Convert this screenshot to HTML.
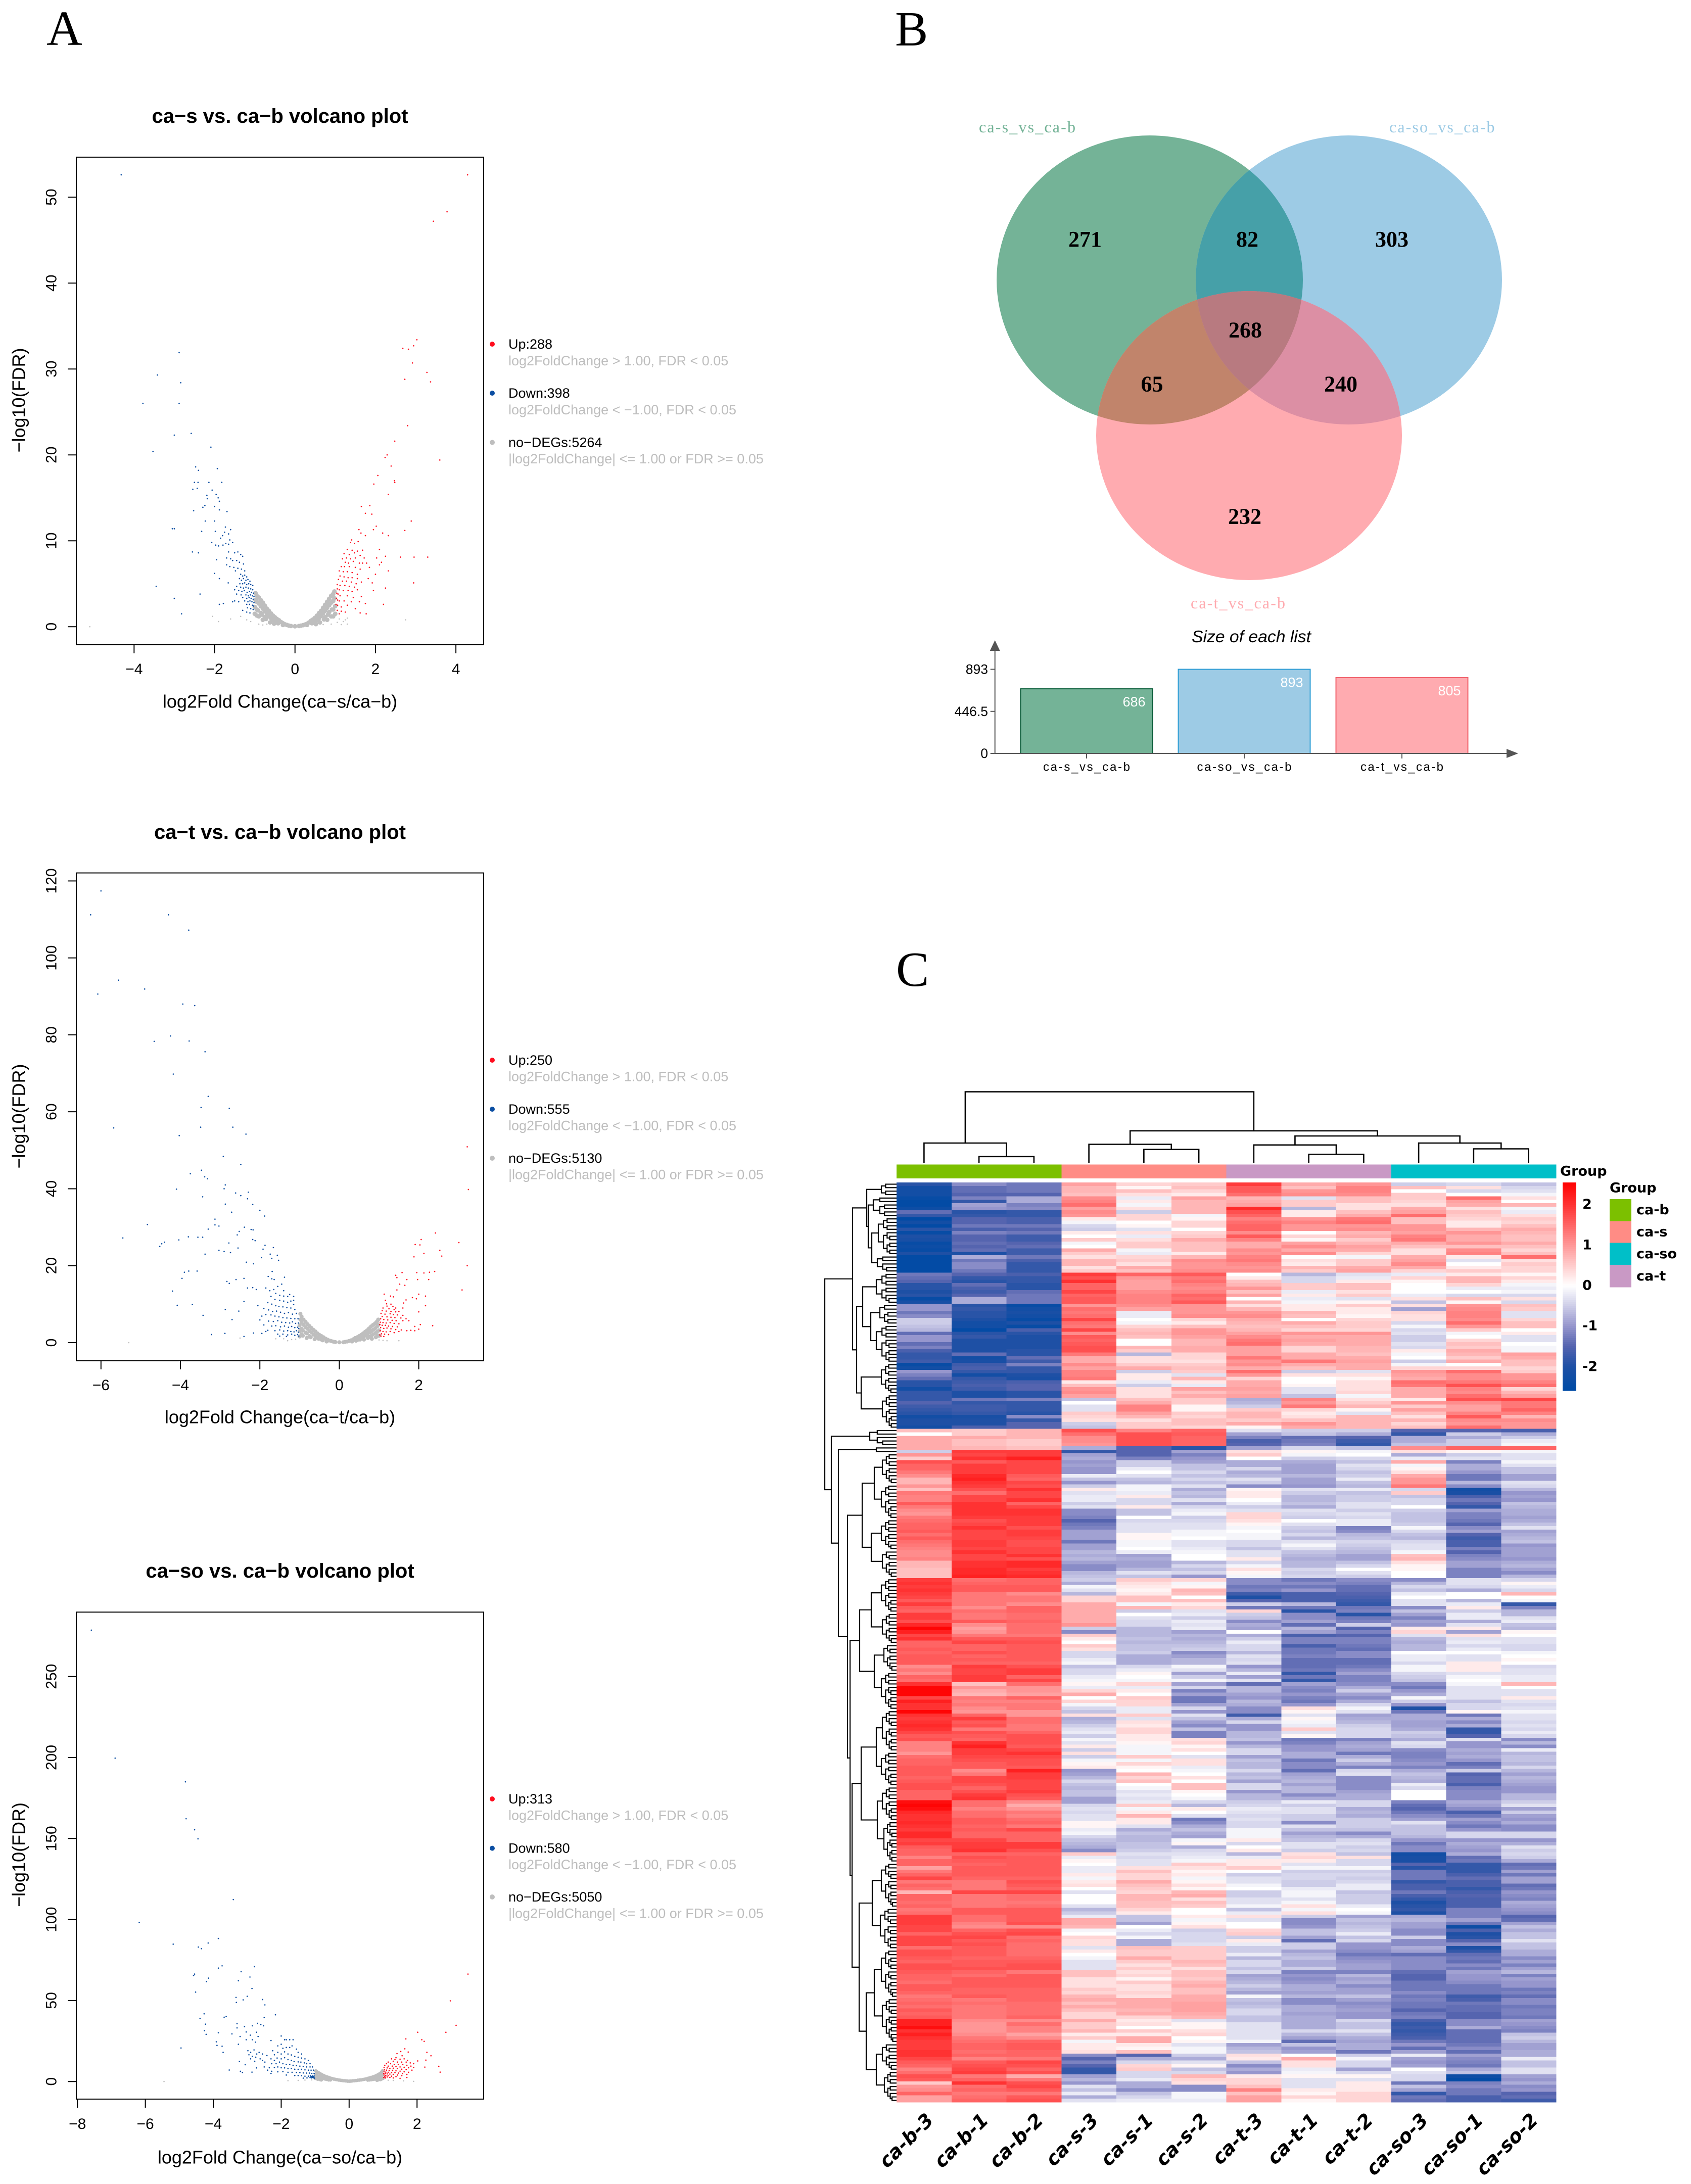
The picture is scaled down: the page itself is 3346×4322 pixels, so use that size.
<!DOCTYPE html>
<html lang="en">
<head>
<meta charset="utf-8">
<title>Volcano plots, Venn diagram and heatmap</title>
<style>
html,body{margin:0;padding:0;background:#fff}
svg{display:block}
text{fill:#000}
.sans{font-family:"Liberation Sans",sans-serif}
.serif{font-family:"Liberation Serif",serif}
.dejavu{font-family:"DejaVu Sans",sans-serif;font-weight:bold}
.vt{font-family:"Liberation Sans",sans-serif;font-weight:bold;font-size:40px;text-anchor:middle;dominant-baseline:central}
.vx{font-family:"Liberation Sans",sans-serif;font-size:36px;text-anchor:middle;dominant-baseline:central}
.lg{font-family:"Liberation Sans",sans-serif;font-size:27px;dominant-baseline:central}
.lgs{font-family:"Liberation Sans",sans-serif;font-size:27px;dominant-baseline:central;fill:#bebebe}
.vn{font-family:"Liberation Serif",serif;font-weight:bold;font-size:44px;text-anchor:middle;dominant-baseline:central}
.letter{font-family:"Liberation Serif",serif;font-size:98px}
</style>
</head>
<body>
<svg id="fig" xmlns="http://www.w3.org/2000/svg" width="3346" height="4322" viewBox="0 0 3346 4322">
<rect width="3346" height="4322" fill="#fff"/>
<text class="letter" x="92" y="89">A</text>
<text class="letter" x="1771" y="90">B</text>
<text class="letter" x="1773" y="1951">C</text>

<g id="v1">
<text class="vt" x="554" y="230">ca−s vs. ca−b volcano plot</text>
<text class="vx" x="554" y="1388">log2Fold Change(ca−s/ca−b)</text>
<text class="vx" transform="translate(37,792) rotate(-90)">−log10(FDR)</text>
<circle cx="974" cy="681" r="5" fill="#ff0d1e"/>
<text class="lg" x="1006" y="681">Up:288</text>
<text class="lgs" x="1006" y="714">log2FoldChange &gt; 1.00, FDR &lt; 0.05</text>
<circle cx="974" cy="778" r="5" fill="#0b4ea2"/>
<text class="lg" x="1006" y="778">Down:398</text>
<text class="lgs" x="1006" y="811">log2FoldChange &lt; −1.00, FDR &lt; 0.05</text>
<circle cx="974" cy="875.5" r="5" fill="#bebebe"/>
<text class="lg" x="1006" y="875.5">no−DEGs:5264</text>
<text class="lgs" x="1006" y="908">|log2FoldChange| &lt;= 1.00 or FDR &gt;= 0.05</text>
</g>

<g id="v2">
<text class="vt" x="554" y="1647">ca−t vs. ca−b volcano plot</text>
<text class="vx" x="554" y="2804">log2Fold Change(ca−t/ca−b)</text>
<text class="vx" transform="translate(37,2209) rotate(-90)">−log10(FDR)</text>
<circle cx="974" cy="2098" r="5" fill="#ff0d1e"/>
<text class="lg" x="1006" y="2098">Up:250</text>
<text class="lgs" x="1006" y="2130.5">log2FoldChange &gt; 1.00, FDR &lt; 0.05</text>
<circle cx="974" cy="2195" r="5" fill="#0b4ea2"/>
<text class="lg" x="1006" y="2195">Down:555</text>
<text class="lgs" x="1006" y="2227.5">log2FoldChange &lt; −1.00, FDR &lt; 0.05</text>
<circle cx="974" cy="2292" r="5" fill="#bebebe"/>
<text class="lg" x="1006" y="2292">no−DEGs:5130</text>
<text class="lgs" x="1006" y="2324.5">|log2FoldChange| &lt;= 1.00 or FDR &gt;= 0.05</text>
</g>

<g id="v3">
<text class="vt" x="554" y="3109">ca−so vs. ca−b volcano plot</text>
<text class="vx" x="554" y="4269">log2Fold Change(ca−so/ca−b)</text>
<text class="vx" transform="translate(37,3670.5) rotate(-90)">−log10(FDR)</text>
<circle cx="974" cy="3560" r="5" fill="#ff0d1e"/>
<text class="lg" x="1006" y="3560">Up:313</text>
<text class="lgs" x="1006" y="3592.7">log2FoldChange &gt; 1.00, FDR &lt; 0.05</text>
<circle cx="974" cy="3657.6" r="5" fill="#0b4ea2"/>
<text class="lg" x="1006" y="3657.6">Down:580</text>
<text class="lgs" x="1006" y="3690">log2FoldChange &lt; −1.00, FDR &lt; 0.05</text>
<circle cx="974" cy="3754" r="5" fill="#bebebe"/>
<text class="lg" x="1006" y="3754">no−DEGs:5050</text>
<text class="lgs" x="1006" y="3786.6">|log2FoldChange| &lt;= 1.00 or FDR &gt;= 0.05</text>
</g>

<g id="venn">
<defs>
<clipPath id="clipGreen"><ellipse cx="2275" cy="554" rx="303" ry="286"/></clipPath>
<clipPath id="clipBlue"><ellipse cx="2669" cy="554" rx="303" ry="286"/></clipPath>
</defs>
<ellipse cx="2275" cy="554" rx="303" ry="286" fill="#74b397"/>
<ellipse cx="2669" cy="554" rx="303" ry="286" fill="#9dcbe5"/>
<ellipse cx="2471.5" cy="862" rx="302.5" ry="286" fill="#ffabb0"/>
<ellipse cx="2669" cy="554" rx="303" ry="286" fill="#46a0a8" clip-path="url(#clipGreen)"/>
<ellipse cx="2471.5" cy="862" rx="302.5" ry="286" fill="#c1846b" clip-path="url(#clipGreen)"/>
<ellipse cx="2471.5" cy="862" rx="302.5" ry="286" fill="#dc8fa4" clip-path="url(#clipBlue)"/>
<g clip-path="url(#clipGreen)"><ellipse cx="2471.5" cy="862" rx="302.5" ry="286" fill="#b87a80" clip-path="url(#clipBlue)"/></g>
<text class="vn" x="2147" y="473.5">271</text>
<text class="vn" x="2468" y="473.5">82</text>
<text class="vn" x="2754" y="473.5">303</text>
<text class="vn" x="2464" y="653">268</text>
<text class="vn" x="2279.5" y="760">65</text>
<text class="vn" x="2653" y="760">240</text>
<text class="vn" x="2463" y="1022">232</text>
<text class="serif" x="1937" y="251" font-size="32" textLength="191" style="fill:#74b397;dominant-baseline:central">ca-s_vs_ca-b</text>
<text class="serif" x="2749" y="251" font-size="32" textLength="208.5" style="fill:#9dcbe5;dominant-baseline:central">ca-so_vs_ca-b</text>
<text class="serif" x="2356" y="1193" font-size="32" textLength="187" style="fill:#ffabb0;dominant-baseline:central">ca-t_vs_ca-b</text>
</g>

<g id="bars">
<text class="sans" x="2476" y="1260" font-size="33.7" font-style="italic" text-anchor="middle" style="dominant-baseline:central">Size of each list</text>
</g>

<g id="heat">
<text class="dejavu" x="3087" y="2318" font-size="27" style="dominant-baseline:central">Group</text>
<text class="dejavu" x="3185" y="2351" font-size="27" style="dominant-baseline:central">Group</text>
</g>
</svg>

<script>
/* ---------- volcano data: [log2 fold change, -log10 FDR] ---------- */
const v1XTicks=[-4,-2,0,2,4];
const v1YTicks=[0,10,20,30,40,50];
const v1Down=[[-4.32,52.6],[-2.88,31.9],[-3.42,29.3],[-2.84,28.4],[-3.78,26],[-2.88,26],[-3,22.3],[-2.58,22.5],[-3.53,20.4],[-2.09,20.9],[-2.47,18.6],[-2.4,18.2],[-1.93,18.4],[-2.5,16.8],[-2.41,16.8],[-2.14,16.8],[-1.82,16.8],[-2.54,16],[-2.43,16.1],[-2.06,15.9],[-2.19,15.3],[-2.18,14.9],[-1.96,15.4],[-1.91,15],[-1.88,14.6],[-2.24,14.1],[-2.29,13.9],[-2,14],[-2.52,13.5],[-1.88,13.6],[-1.69,13.4],[-2.23,12.3],[-2,12.3],[-3.05,11.4],[-3,11.4],[-2.32,11.1],[-1.98,11.1],[-1.73,11.6],[-1.6,11.3],[-1.75,11],[-1.65,10.8],[-1.8,10.6],[-1.85,10.3],[-1.62,10.1],[-1.55,9.8],[-1.72,9.7],[-2.07,9.8],[-1.97,9.5],[-1.9,9.4],[-1.79,9.5],[-1.65,9.6],[-2.55,8.7],[-2.4,8.6],[-1.65,8.7],[-1.5,8.6],[-1.42,8.7],[-1.35,8.4],[-1.3,8.2],[-1.7,8],[-1.6,7.9],[-1.55,7.7],[-1.45,7.7],[-1.38,7.5],[-1.28,7.3],[-1.7,7.2],[-1.62,7],[-1.52,6.9],[-1.42,6.8],[-1.33,6.7],[-1.25,6.5],[-1.48,6.5],[-1.95,7.8],[-2,6.2],[-1.88,5.6],[-1.66,5.1],[-1.35,6.1],[-1.3,5.9],[-1.25,6],[-1.2,5.8],[-1.38,5.6],[-1.33,5.4],[-1.28,5.6],[-1.22,5.4],[-1.17,5.5],[-1.12,5.3],[-1.37,5],[-1.3,5],[-1.25,5.1],[-1.2,4.9],[-1.15,5],[-1.1,4.9],[-1.05,4.8],[-1.45,4.7],[-1.35,4.6],[-1.28,4.5],[-1.22,4.6],[-1.16,4.5],[-1.1,4.4],[-1.05,4.3],[-1.5,4.3],[-1.4,4.2],[-1.32,4.1],[-1.26,4.2],[-1.19,4],[-1.13,4.1],[-1.08,4],[-1.03,3.9],[-1.45,3.8],[-1.34,3.7],[-1.22,3.7],[-1.16,3.6],[-1.11,3.7],[-1.06,3.6],[-1.02,3.5],[-1.3,3.4],[-1.2,3.3],[-1.14,3.4],[-1.09,3.3],[-1.04,3.2],[-1.25,3],[-1.17,2.9],[-1.12,3],[-1.07,2.9],[-1.02,2.8],[-1.4,2.9],[-1.5,3],[-1.55,2.9],[-1.2,2.6],[-1.13,2.6],[-1.06,2.5],[-1.03,2.4],[-1.18,2.2],[-1.1,2.1],[-1.04,2],[-1.3,1.9],[-1.2,1.7],[-1.12,1.6],[-3,3.3],[-3.45,4.7],[-2.36,3.8],[-1.88,2.6],[-1.78,2.7],[-2.82,1.5]];
const v1Up=[[4.29,52.6],[3.78,48.3],[3.44,47.2],[3.03,33.4],[2.95,32.7],[2.68,32.4],[2.82,32.3],[2.92,30.7],[3.28,29.6],[2.73,28.8],[3.37,28.5],[2.8,23.4],[2.48,21.6],[2.29,20],[2.24,19.7],[3.6,19.4],[2.39,18.7],[2.06,17.6],[2.47,17],[2.48,16.8],[1.96,16.6],[2.32,15.4],[1.65,14],[1.86,14.1],[1.75,13.2],[1.91,13.1],[2.89,12.3],[2.73,11.2],[2.02,11.7],[1.95,11.3],[1.59,11.3],[1.64,10.9],[1.75,10.6],[2.18,10.9],[1.41,10.1],[1.38,9.8],[1.57,9.9],[1.48,9.7],[2.32,10.6],[1.3,9],[1.42,8.9],[1.55,8.8],[1.68,8.9],[2.1,9],[1.22,8.5],[1.35,8.4],[1.48,8.6],[1.62,8.3],[1.28,8],[1.18,7.9],[1.38,7.9],[1.5,8],[1.72,8],[1.25,7.5],[1.33,7.4],[1.45,7.6],[1.6,7.4],[1.68,7.4],[1.78,7.4],[2.03,8],[2.15,7.5],[2.25,8.2],[2.62,8.1],[2.96,8.1],[3.3,8.1],[2.1,7.2],[1.15,7],[1.23,7],[1.35,7],[1.5,6.9],[1.62,6.7],[1.85,6.9],[2.32,6.5],[1.1,6.5],[1.2,6.4],[1.3,6.4],[1.42,6.3],[1.55,6.1],[2,6.1],[1.12,5.9],[1.22,5.8],[1.32,5.7],[1.42,5.7],[1.55,5.6],[1.82,5.6],[1.08,5.5],[1.18,5.3],[1.28,5.3],[1.4,5.2],[1.52,5],[1.65,5.2],[1.92,5.1],[2.95,5.1],[1.05,4.9],[1.12,4.8],[1.24,4.8],[1.35,4.7],[1.48,4.6],[2.25,4.5],[1.05,4.4],[1.1,4.3],[1.2,4.2],[1.32,4.2],[1.42,4.1],[1.55,4.3],[1.95,4.2],[1.04,3.9],[1.07,3.8],[1.12,3.6],[1.3,3.6],[1.45,3.4],[1.65,3.5],[1.03,3.3],[1.06,3.1],[1.1,3],[1.22,3],[1.4,2.9],[1.6,2.9],[1.02,2.6],[1.06,2.5],[1.15,2.3],[1.3,2.5],[1.5,2.1],[1.75,2.7],[2.2,2.6],[1.05,1.9],[1.15,1.8],[1.25,1.7],[1.62,1.6],[1.77,1.5],[1.1,1.5]];
const v1Gray=[[0,.05],[-.1,.08],[.1,.08],[-.2,.2],[.2,.18],[-.3,.4],[.3,.35],[-.3,.2],[.3,.2],[-.4,.75],[-.42,.4],[.4,.7],[.42,.4],[-.5,1.1],[-.5,.65],[-.52,.35],[.5,1.05],[.5,.6],[.52,.3],[-.6,1.55],[-.6,1],[-.62,.5],[.6,1.6],[.6,1],[.62,.5],[-.7,2.1],[-.7,1.5],[-.72,.9],[.7,2.2],[.7,1.55],[.72,.85],[-.8,2.8],[-.8,2.1],[-.82,1.4],[-.8,.8],[.8,2.9],[.8,2.2],[.82,1.4],[.8,.8],[-.9,3.4],[-.9,2.7],[-.92,1.9],[-.9,1.2],[.9,3.6],[.9,2.8],[.92,2],[.9,1.2],[-.98,3.9],[-.98,3.1],[-1,2.3],[-1,1.5],[.98,4.1],[.98,3.3],[1,2.4],[1,1.5],[-.15,.12],[.15,.12],[-.25,.28],[.25,.25],[-.35,.55],[.35,.5],[-.45,.9],[.45,.85],[-.45,.5],[.45,.45],[-.55,1.3],[.55,1.3],[-.55,.8],[.55,.75],[-.65,1.85],[.65,1.85],[-.65,1.2],[.65,1.25],[-.75,2.45],[.75,2.55],[-.75,1.8],[.75,1.85],[-.75,1.1],[.75,1.1],[-.85,3.1],[.85,3.25],[-.85,2.4],[.85,2.5],[-.85,1.6],[.85,1.7],[-.95,3.6],[.95,3.8],[-.95,2.9],[.95,3],[-.95,2],[.95,2],[-.95,1.3],[.95,1.2]];
const v1GraySparse=[[-5.1,0],[2.75,.8],[-2.05,1.2],[-1.9,.6],[-1.6,.9],[1.3,.3],[1.2,.6],[-.8,.2],[-.9,.3],[.9,.3],[1.05,.5],[1.15,.25],[1.25,.8],[-1.1,.6],[-1.2,.8],[-1.35,1.2],[1.3,1],[1.1,.9],[-.7,.3],[.7,.25]];

const v2XTicks=[-6,-4,-2,0,2];
const v2YTicks=[0,20,40,60,80,100,120];
const v2Down=[[-6,117.4],[-6.26,111.2],[-4.3,111.2],[-3.79,107.2],[-5.56,94.2],[-4.9,91.9],[-6.08,90.6],[-3.94,88],[-3.64,87.6],[-4.25,79.7],[-4.66,78.3],[-3.78,78.4],[-3.38,75.6],[-4.18,69.8],[-3.3,64],[-3.48,61.1],[-2.77,60.9],[-5.68,55.8],[-3.49,56],[-2.68,56],[-2.35,54.2],[-4.03,53.8],[-2.92,48.4],[-2.48,46.3],[-3.47,44.8],[-3.75,43.9],[-3.39,43.1],[-3.32,42.6],[-2.87,41],[-2.9,40],[-4.1,39.9],[-2.61,38.9],[-2.48,38.2],[-2.29,39.1],[-3.44,37.9],[-2.31,37.4],[-2.18,35.9],[-2.87,36],[-2,34.4],[-2.71,33.9],[-1.88,32.9],[-3.13,32.1],[-3.13,30.6],[-3.03,30.3],[-4.83,30.7],[-3.3,29.5],[-2.39,30],[-2.22,29.4],[-2.17,29.3],[-2.52,28.9],[-2.57,28],[-5.45,27.2],[-3.44,27.4],[-3.8,27.5],[-3.56,27.4],[-4.04,26.7],[-2.18,26.8],[-2.12,26.5],[-2.78,25.9],[-4.4,26.1],[-4.47,25.7],[-4.52,25],[-1.87,25.3],[-1.92,24.3],[-1.66,24.7],[-3.03,24],[-2.9,23.7],[-2.55,24.6],[-2.74,23.4],[-3.38,23],[-1.74,23],[-1.56,22.7],[-1.96,22.1],[-1.7,21.9],[-1.53,21.4],[-2.34,20.9],[-2.16,20.5],[-3.9,18.3],[-3.96,16.7],[-3.79,18.6],[-3.58,18.6],[-1.69,18.5],[-1.79,17.2],[-1.7,16.6],[-1.64,16.4],[-1.38,17],[-2.6,16.4],[-2.4,16.7],[-2.83,15.9],[-2.77,15.4],[-4.2,13.4],[-4.08,9.7],[-3.7,9.9],[-3.43,7.1],[-3.22,2.1],[-2.88,2.4],[-2.31,14.2],[-2.18,14.3],[-2.09,13.8],[-2.4,10.7],[-2.05,9.6],[-2.53,8.2],[-2.87,8.6],[-2.7,6],[-2.4,1.6],[-2.16,2.5],[-1.85,14.2],[-1.75,13.5],[-1.65,13.8],[-1.55,14.6],[-1.45,15.2],[-1.4,13.5],[-1.6,12.8],[-1.5,12.3],[-1.4,12.1],[-1.3,12],[-1.72,12],[-1.62,11.2],[-1.5,11],[-1.4,10.8],[-1.3,10.5],[-1.22,10.8],[-1.15,9.9],[-1.8,10.4],[-1.7,10],[-1.6,9.6],[-1.52,9.4],[-1.42,9.3],[-1.32,9.1],[-1.22,9],[-1.12,8.6],[-1.9,8.9],[-1.78,8.5],[-1.68,8.1],[-1.58,8.2],[-1.48,7.9],[-1.38,7.6],[-1.28,7.8],[-1.18,7.4],[-1.08,7.6],[-1.95,6.9],[-1.85,7.3],[-1.72,7.2],[-1.62,6.9],[-1.52,6.7],[-1.42,6.5],[-1.32,6.4],[-1.22,6.3],[-1.12,6.2],[-1.04,6.2],[-2,5.9],[-1.78,5.6],[-1.66,5.5],[-1.55,5.7],[-1.45,5.3],[-1.35,5.2],[-1.25,5.1],[-1.18,5.4],[-1.1,5],[-1.03,5.1],[-1.9,4.6],[-1.7,4.3],[-1.6,4.4],[-1.48,4.1],[-1.38,4.3],[-1.28,4],[-1.2,4.2],[-1.12,3.9],[-1.05,4],[-1.02,3.7],[-1.8,3.2],[-1.62,3.1],[-1.5,3.3],[-1.4,3],[-1.3,3.1],[-1.22,2.9],[-1.14,2.8],[-1.08,3.1],[-1.03,2.7],[-1.55,2.2],[-1.42,2.2],[-1.3,2],[-1.2,2.2],[-1.12,1.9],[-1.05,2.1],[-1.02,1.7],[-1.33,1.6],[-1.5,1.7],[-1.95,2.4],[-1.85,2.9],[-1.15,12],[-1.25,12.5],[-1.15,11]];
const v2Up=[[3.22,50.9],[3.25,39.8],[2.42,28.5],[3.01,26],[2.06,26.8],[1.91,25.5],[2.03,25.4],[2.53,24],[2.13,23.2],[2.58,22.5],[1.88,22.3],[3.22,20],[2.4,18.5],[2.27,18.3],[2.13,18.1],[1.95,18.2],[1.58,18.2],[1.42,17.5],[1.45,16.9],[2.25,16.4],[1.97,16.4],[1.7,16.4],[1.65,14.9],[1.52,15.2],[1.45,13.7],[3.09,13.7],[2,12.6],[2.17,12.1],[1.84,11.7],[1.94,11.4],[1.13,12.6],[1.29,12.1],[1.36,11.9],[1.68,11.1],[1.62,10.3],[1.16,11],[1.19,10.1],[2.17,9.6],[2,8],[2.35,4.4],[2.04,4.7],[1.3,10],[1.2,9.5],[1.35,9.4],[1.42,9],[1.1,9],[1.25,8.8],[1.38,8.6],[1.08,8.3],[1.18,8.2],[1.3,8.1],[1.42,8],[1.5,8.1],[1.05,7.6],[1.15,7.4],[1.28,7.5],[1.36,7.3],[1.46,7.2],[1.6,7.1],[1.08,6.8],[1.2,6.7],[1.3,6.6],[1.4,6.5],[1.55,6.4],[1.68,6.2],[1.04,6.2],[1.12,6],[1.22,5.9],[1.33,5.8],[1.43,5.7],[1.6,5.7],[1.75,5.7],[1.03,5.3],[1.1,5.2],[1.18,5.1],[1.28,5.2],[1.38,5],[1.5,4.9],[1.02,4.7],[1.08,4.5],[1.16,4.5],[1.24,4.3],[1.34,4.2],[1.46,4.1],[1.04,3.9],[1.12,3.7],[1.2,3.8],[1.3,3.6],[1.42,3.4],[1.56,3.3],[1.7,3.1],[1.8,3.2],[1.9,3.1],[1.03,3.1],[1.1,2.9],[1.18,2.8],[1.28,2.9],[1.38,2.6],[1.5,2.9],[1.06,2.3],[1.14,2.2],[1.24,2.1],[1.05,1.7],[1.12,1.6],[1.02,2],[2,3.5],[1.9,4.2],[1.6,9]];
const v2Gray=[[0,.1],[-.1,.15],[.1,.1],[-.2,.4],[.2,.3],[-.3,.8],[.3,.6],[-.32,.3],[.32,.3],[-.4,1.4],[-.42,.6],[.4,1.2],[.42,.5],[-.5,2],[-.52,1],[.5,1.7],[.52,.8],[-.6,2.9],[-.6,1.8],[-.62,.9],[.6,2.4],[.6,1.5],[.62,.8],[-.7,3.8],[-.7,2.7],[-.72,1.4],[.7,3.2],[.7,2.2],[.72,1.2],[-.8,4.8],[-.8,3.6],[-.82,2.4],[-.82,1.2],[.8,4.2],[.8,3],[.82,1.9],[.82,1],[-.9,6],[-.9,4.6],[-.92,3.2],[-.92,1.8],[.9,5],[.9,3.7],[.92,2.5],[.92,1.4],[-.98,7.5],[-.98,6],[-1,4.5],[-1,3],[-1,1.6],[.98,6],[.98,4.6],[1,3.2],[1,1.8],[-.15,.25],[.15,.2],[-.25,.55],[.25,.45],[-.35,1.05],[.35,.85],[-.45,1.7],[.45,1.4],[-.45,.8],[.45,.65],[-.55,2.4],[.55,2],[-.55,1.3],[.55,1.1],[-.65,3.3],[.65,2.8],[-.65,2.1],[.65,1.8],[-.75,4.3],[.75,3.7],[-.75,3],[.75,2.6],[-.75,1.7],[.75,1.5],[-.85,5.4],[.85,4.6],[-.85,4],[.85,3.3],[-.85,2.6],[.85,2.2],[-.95,6.8],[.95,5.5],[-.95,5.2],[.95,4.2],[-.95,3.6],[.95,2.8],[-.95,2.2],[.95,1.7]];
const v2GraySparse=[[-5.3,0],[-2.5,1.2],[-1.2,.8],[-1.4,1],[1.1,.6],[1.5,.5],[1.2,.5],[-1.1,.9],[-1.6,1],[-1.3,.5],[1,.7]];

const v3XTicks=[-8,-6,-4,-2,0,2];
const v3YTicks=[0,50,100,150,200,250];
const v3Down=[[-7.59,278.6],[-6.89,199.6],[-4.82,185],[-4.8,162.2],[-4.55,155.4],[-4.45,149.8],[-3.41,112.3],[-6.18,98.2],[-3.85,88.3],[-4.15,85.5],[-5.18,84.8],[-4.44,83],[-4.35,82],[-3.74,71.4],[-3.85,70],[-2.79,70.9],[-3.18,67.8],[-2.92,64.5],[-4.55,66.3],[-4.58,65.5],[-4.14,63.8],[-4.2,61.7],[-3.26,62.2],[-2.86,57.4],[-4.52,55.2],[-3.33,51.9],[-3.32,48.8],[-3.12,50.4],[-3,52.6],[-2.55,50.6],[-2.48,47.3],[-4.27,41.8],[-4.39,39],[-2.17,41.2],[-2.5,39.5],[-3.62,40.2],[-3.68,39.7],[-4.23,35.4],[-3.3,35.7],[-3.3,33.1],[-2.7,35.9],[-2.6,35.2],[-2.52,34.4],[-3.08,33.9],[-2.85,34.4],[-4.26,31.4],[-4.21,29.1],[-3.85,30.1],[-3.45,29.4],[-3.03,30.6],[-2.73,30.4],[-2.91,28.6],[-2.68,27.8],[-3.21,27.8],[-2,28.1],[-1.9,25.8],[-1.85,25.8],[-1.75,25.8],[-1.65,25.8],[-3.03,25.8],[-2.3,25.3],[-2.85,25.8],[-2.76,24.3],[-3.91,24.5],[-3.89,22.3],[-3.74,21.8],[-3.26,23],[-3.71,18],[-4.95,20.7],[-3.53,7.1],[-3.2,6.3],[-3.14,5.6],[-2.86,5.8],[-3.23,12.4],[-3.06,10.4],[-2.73,8.4],[-2.98,19],[-2.9,18],[-2.8,19.5],[-2.72,17],[-2.95,16.5],[-2.85,15.5],[-2.75,15],[-2.62,14],[-2.55,13],[-2.48,12],[-2.9,14],[-2.78,12.5],[-2.65,18],[-2.55,17],[-2.42,16],[-2.5,9],[-2.4,7],[-2.3,5],[-2.1,22],[-2,23],[-1.95,20.5],[-1.85,21],[-1.75,21],[-1.68,22],[-1.55,20],[-1.5,18],[-1.4,17],[-2.25,19],[-2.2,16.5],[-2.1,18],[-2,17],[-1.9,18.3],[-1.8,17],[-1.7,16.4],[-1.6,15.5],[-1.5,15],[-1.4,14.5],[-1.3,14],[-1.2,13],[-2.3,14],[-2.2,13],[-2.12,14.5],[-2,14],[-1.9,14.7],[-1.8,13.5],[-1.7,13],[-1.62,12.3],[-1.5,12.1],[-1.42,12],[-1.32,11.5],[-1.25,11],[-1.15,11],[-2.28,11],[-2.15,11],[-2.05,12],[-1.95,11],[-1.85,10.5],[-1.75,10.5],[-1.65,10],[-1.55,9.8],[-1.45,9.5],[-1.35,9.3],[-1.25,9],[-1.15,9],[-1.08,9],[-2.35,8.5],[-2.2,8.6],[-2.1,9],[-2,8.5],[-1.9,8.4],[-1.8,8],[-1.7,8],[-1.6,7.6],[-1.5,7.5],[-1.4,7.5],[-1.3,7.2],[-1.2,7],[-1.12,7],[-1.05,7],[-2.28,6.3],[-2.1,6],[-1.95,6.1],[-1.8,5.7],[-1.68,5.7],[-1.55,5.6],[-1.45,5.5],[-1.35,5.3],[-1.25,5.2],[-1.17,5.2],[-1.1,5],[-1.03,5],[-1.85,4],[-1.6,3.7],[-1.5,3.7],[-1.4,3.6],[-1.3,3.3],[-1.2,3.3],[-1.14,3.5],[-1.08,3.4],[-1.03,3.4],[-1.24,2.2],[-1.15,2.4],[-1.1,2.2],[-1.05,2.3],[-1.35,2.1],[-1.02,2.1],[-1.1,2.8],[-1.08,2.6],[-1.06,3],[-1.04,2.8],[-1.12,3],[-1.09,3.2]];
const v3Up=[[3.5,66.3],[2.98,49.8],[3.15,34.7],[2.02,30.4],[2.85,30.4],[1.67,26.3],[2.14,25.8],[2.21,24.8],[2.29,18],[2.41,15.9],[1.64,20.2],[1.52,18.5],[1.41,17.2],[1.74,18.2],[1.56,15.9],[1.38,14.7],[2.26,13.2],[2.02,12.7],[2.23,8.9],[2.64,9.4],[2.68,5.8],[1.25,14],[1.35,13.5],[1.5,13.8],[1.62,14],[1.72,13],[1.15,12],[1.3,12.5],[1.42,12],[1.55,12],[1.68,12],[1.8,11.5],[1.9,11],[1.1,11],[1.22,11],[1.33,10.5],[1.45,10.5],[1.58,10.5],[1.7,10],[1.82,9.5],[1.05,10],[1.15,9.5],[1.27,9.5],[1.38,9.2],[1.5,9],[1.62,8.8],[1.75,8.5],[1.9,8.7],[1.03,8.7],[1.12,8.4],[1.2,8],[1.3,8.2],[1.42,8],[1.55,7.6],[1.68,7.4],[1.85,7],[1.04,7.2],[1.1,7],[1.18,6.8],[1.28,6.9],[1.38,6.6],[1.5,6.4],[1.62,6],[1.75,5.7],[1.03,6],[1.08,5.8],[1.15,5.7],[1.25,5.5],[1.35,5.5],[1.45,5.2],[1.57,4.9],[1.7,4.4],[1.02,5],[1.07,4.8],[1.12,4.7],[1.2,4.6],[1.3,4.4],[1.42,4],[1.55,3.6],[1.03,4],[1.08,3.7],[1.15,3.6],[1.25,3.3],[1.38,3],[1.05,3],[1.12,2.8],[1.2,2.5],[1.02,2.5],[1.07,2.2],[1.3,2.2],[1.5,2],[1.7,2.5]];
const v3Gray=[[0,.2],[-.1,.4],[.1,.4],[-.2,.6],[.2,.6],[-.3,.9],[.3,.9],[-.4,1.3],[.4,1.2],[-.5,1.8],[.5,1.6],[-.6,2.5],[-.6,1],[.6,2.2],[.6,1],[-.7,3.2],[-.7,1.5],[.7,2.8],[.7,1.3],[-.8,4.2],[-.8,2.2],[-.82,1],[.8,3.6],[.8,1.8],[.82,.8],[-.9,5.4],[-.9,3.2],[-.92,1.4],[.9,4.8],[.9,2.8],[.92,1.2],[-.98,6.5],[-.98,4.2],[-1,2],[.98,6.5],[.98,4.2],[1,2],[-.05,.25],[.05,.25],[-.15,.5],[.15,.5],[-.25,.75],[.25,.75],[-.35,1.1],[.35,1],[-.45,1.5],[.45,1.4],[-.55,2.1],[.55,1.9],[-.55,1],[.55,.9],[-.65,2.8],[.65,2.5],[-.65,1.3],[.65,1.1],[-.75,3.7],[.75,3.2],[-.75,1.8],[.75,1.5],[-.85,4.8],[.85,4.2],[-.85,2.7],[.85,2.3],[-.85,1.2],[.85,1],[-.95,6],[.95,5.6],[-.95,3.8],[.95,3.4],[-.95,1.7],[.95,1.5]];
const v3GraySparse=[[-5.45,0],[-1.5,.7],[-1.3,.9],[1.3,.7],[1.9,.1],[-1.1,1],[1.15,.8],[-1.8,.5],[1.6,.4]];

/* ---------- bar chart data ---------- */
const barCategories=['ca-s_vs_ca-b','ca-so_vs_ca-b','ca-t_vs_ca-b'];
const barValues=[686,893,805];
const barTicks=[0,446.5,893];

/* ---------- heatmap data: z-scores x 10, row by row ---------- */
const columnLabels=['ca-b-3','ca-b-1','ca-b-2','ca-s-3','ca-s-1','ca-s-2','ca-t-3','ca-t-1','ca-t-2','ca-so-3','ca-so-1','ca-so-2'];
const columnGroups=[0,0,0,1,1,1,3,3,3,2,2,2];
const groupNames=['ca-b','ca-s','ca-so','ca-t'];
const colorbarTicks=[2,1,0,-1,-2];
const columnTree=[140.9,[39.5,0,[12.7,1,2]],[63.7,[37,3,[26.8,4,5]],[53.5,[35.7,6,[17.2,7,8]],[39.5,9,[28,10,11]]]]];
const rowTree=[142,[87,[59,[30,4],[56,[46,6],[49,[36,11],[38,5]]]],[79,[67,[40,9],[51,[33,6],[40,11]]],[70,[30,9],[28,10]]]],[129,[53,5],[115,[40,2],[97,[68,[44,[28,9],[30,10]],[50,[30,9],[28,8]]],[92,[73,[50,[30,10],[28,9]],[44,[25,8],[30,11]]],[88,[70,[40,[28,12],[30,10]],[38,[28,10],[25,12]]],[74,[48,[30,13],[32,12]],[60,[44,[30,14],[28,13]],[40,[28,8],[24,9]]]]]]]]]];
const heatmapTenths=[
[-19,-11,-13,9,4,5,19,8,10,-5,-4,-6],[-22,-14,-13,7,1,6,16,6,12,6,3,-4],[-22,-14,-13,7,6,4,16,10,12,0,-4,-3],[-22,-15,-15,6,3,2,14,11,11,5,0,-1],[-24,-12,-8,11,-2,9,7,-3,6,5,14,3],[-25,-18,-8,12,2,7,8,5,6,4,9,0],[-25,-9,-12,14,-1,7,9,5,3,3,8,7],[-23,-10,-11,9,3,7,21,-7,3,8,3,-1],[-14,-19,-18,11,-5,7,17,2,6,9,6,-2],[-18,-18,-18,10,4,-1,15,2,8,14,5,3],
[-25,-15,-16,2,4,1,12,10,13,6,4,5],[-22,-15,-16,-1,0,4,14,12,14,6,2,4],[-25,-13,-13,-4,1,4,15,10,10,10,2,6],[-19,-16,-15,-5,-3,0,15,10,11,10,7,8],[-24,-12,-13,2,3,4,11,0,7,9,10,7],[-20,-15,-17,0,-2,5,16,4,8,12,8,6],[-21,-15,-17,5,3,8,12,1,5,13,8,6],[-24,-14,-15,-1,5,6,8,9,7,8,10,8],[-23,-15,-14,0,5,6,8,11,9,6,6,6],[-24,-14,-17,8,-1,6,11,8,8,3,11,4],
[-20,-20,-17,5,-2,2,10,11,4,3,12,6],[-25,-8,-13,3,4,7,12,0,-1,8,2,14],[-25,-13,-16,7,5,11,13,3,5,9,-3,3],[-25,-11,-18,7,3,10,11,2,5,11,0,5],[-25,-11,-18,3,8,10,10,7,8,8,2,4],[-25,-13,-18,5,6,11,11,5,9,4,5,4],[-13,-15,-16,19,15,16,0,-7,-3,-2,2,1],[-14,-18,-18,17,10,13,2,-4,-2,4,7,4],[-15,-19,-18,20,9,14,6,-4,2,1,7,2],[-19,-14,-19,15,9,12,7,5,6,0,4,-1],
[-19,-16,-19,15,9,11,10,5,6,0,-2,-2],[-20,-17,-14,18,11,12,6,-2,3,0,0,-1],[-19,-15,-13,15,12,15,9,2,5,-2,-4,-4],[-24,-8,-13,16,12,14,0,-2,-3,3,6,3],[-21,-8,-13,16,12,16,7,-1,1,-6,1,-4],[-10,-19,-24,10,11,10,3,2,5,3,10,6],[-10,-18,-22,14,9,10,7,2,2,-9,11,5],[-13,-19,-21,13,-2,10,10,7,2,4,12,-3],[-11,-19,-22,14,-2,11,11,6,1,3,12,-3],[-5,-20,-24,18,0,4,8,0,4,3,11,4],
[-5,-22,-20,14,-1,2,7,8,5,-4,14,6],[-6,-22,-24,13,4,6,6,6,5,-1,10,6],[-7,-25,-16,18,6,10,7,4,4,-4,5,0],[-14,-19,-19,11,7,10,9,10,10,-3,-1,2],[-10,-18,-20,16,6,9,11,8,8,-5,0,-3],[-10,-20,-20,15,0,7,13,9,8,-5,4,-3],[-14,-20,-20,16,0,7,14,8,8,-3,6,0],[-12,-20,-20,17,7,8,9,4,7,-4,5,-1],[-16,-20,-19,17,5,8,9,4,7,2,8,-1],[-18,-14,-19,13,-7,4,9,8,6,-1,7,9],
[-18,-22,-14,8,3,4,13,8,8,0,5,8],[-17,-21,-17,8,3,3,10,13,9,-5,8,6],[-24,-17,-12,11,5,5,11,8,8,-1,0,6],[-22,-16,-18,9,8,6,8,6,8,4,4,4],[-10,-18,-18,12,-5,5,14,-5,-3,10,14,5],[-12,-22,-20,12,2,-3,10,3,3,9,11,10],[-14,-18,-21,13,2,7,4,0,1,8,11,10],[-19,-17,-16,2,-2,2,8,0,3,14,13,12],[-19,-16,-15,6,-5,-2,8,1,3,13,17,14],[-22,-17,-15,10,3,9,9,-3,3,8,12,4],
[-18,-20,-19,11,3,6,8,-3,4,8,11,7],[-18,-20,-19,9,3,8,9,-6,-1,8,14,9],[-18,-13,-12,-6,6,5,-8,12,3,2,17,18],[-15,-18,-18,0,8,5,-7,10,5,10,11,13],[-17,-17,-18,-3,12,1,-5,13,7,5,9,13],[-18,-17,-18,-3,12,1,5,4,1,9,9,15],[-19,-18,-19,5,9,5,7,2,-3,6,12,12],[-22,-21,-11,4,7,4,7,3,7,3,16,7],[-20,-20,-18,3,3,6,5,6,7,7,11,11],[-20,-20,-15,-5,5,6,8,10,7,4,10,10],[-22,-16,-15,-6,5,4,1,8,7,6,14,10],
[6,5,7,17,12,15,-3,-5,-5,-15,-15,-16],[0,5,7,14,17,16,-9,-6,-8,-18,-5,-8],[8,8,7,11,17,15,-12,-14,-15,-8,-8,-5],[8,6,5,11,17,15,-16,-13,-17,-8,-5,-2],[8,6,5,10,17,15,-15,-12,-18,-6,-5,-1],[8,7,6,-8,-15,-19,-9,-4,-6,11,15,15],[-5,19,19,-18,-15,-9,3,1,-1,3,1,-1],[10,18,19,-9,-15,-12,5,-1,0,-8,-5,-3],[5,20,22,-8,-12,-10,0,-5,-4,-2,-3,-3],[17,16,18,-10,-5,-9,-8,-8,-6,8,-12,-1],
[15,19,18,-9,-5,-6,-8,-9,-3,-1,-8,-3],[15,19,18,-10,-2,-6,-4,-9,-4,1,-8,-6],[13,19,18,-10,0,-4,-8,-9,-6,3,-10,-6],[11,21,16,-2,-3,-6,-7,-7,-5,8,-13,-9],[7,22,15,-6,-6,-4,-3,-9,-2,10,-13,-9],[7,20,18,-10,-7,-6,-5,-9,-6,10,-7,-3],[10,19,17,-5,-1,-3,-11,-10,-7,13,-11,-4],[6,17,20,2,-1,-8,1,-3,-2,-4,-22,-7],[13,14,18,-3,-2,-6,2,-5,-6,5,-21,-10],[12,18,18,-2,2,-7,2,-7,-5,-6,-16,-9],
[12,18,20,-2,-4,-3,0,-7,-5,-4,-13,-10],[16,20,15,-5,-4,-8,-2,-6,-3,-4,-15,-6],[13,20,18,-3,2,-4,-5,-8,-3,0,-18,-7],[11,20,20,-11,-6,-2,-3,-3,-5,-5,-9,-8],[10,20,20,-11,-6,-1,4,-4,-3,-6,-12,-8],[13,19,19,-12,0,-5,4,-5,-4,-6,-12,-9],[14,17,19,-15,-4,-4,3,0,-2,-6,-13,-8],[15,18,19,-13,-3,-3,1,-3,-2,-5,-15,-6],[15,20,17,-12,-3,-3,-1,-5,-12,-1,-11,-3],[16,18,19,-9,-3,-1,0,-6,-11,-4,-9,-9],
[14,18,19,-9,1,-1,-1,-4,-7,-6,-15,-8],[16,18,18,-9,1,0,-1,-7,-6,-7,-17,-7],[14,19,17,-13,-1,-3,-4,-3,-4,-4,-16,-6],[13,19,17,-9,-1,-3,-4,-1,-5,-3,-16,-10],[12,18,18,-9,0,-2,-6,-3,-6,-3,-12,-9],[11,20,18,-7,-2,-1,-3,-6,-7,-1,-15,-9],[11,18,20,-8,-9,0,-3,-7,-9,6,-12,-9],[12,18,17,-7,-8,0,2,-8,-9,7,-11,-10],[7,20,21,-9,-9,-7,-4,-7,-6,3,-9,-8],[7,20,21,-11,-9,-4,-1,-7,-4,1,-9,-7],
[6,21,19,-11,-7,-6,3,-4,0,1,-12,-9],[6,21,20,-7,-3,-4,1,-5,-3,0,-12,-11],[6,22,21,-6,-6,-10,-1,-4,-5,0,-12,-7],[19,14,15,-5,5,4,-11,-13,-11,-11,-3,-4],[20,15,15,-8,3,-1,-11,-11,-12,-7,-3,1],[19,16,16,-1,2,1,-13,-13,-14,-4,-4,-2],[20,16,16,-3,1,7,-12,-10,-14,-6,-8,-4],[19,13,11,-7,2,6,-17,-16,-15,-2,0,7],[18,13,13,4,6,0,-20,-16,-16,0,0,0],[16,13,13,4,6,6,-15,-16,-17,-3,-7,-1],
[19,13,11,8,-1,2,-5,-7,-18,-3,-2,-18],[16,11,15,8,7,4,-13,-13,-13,-11,2,-12],[15,14,15,8,-5,-3,4,-19,-12,-6,-5,-7],[19,13,14,8,0,-2,-5,-11,-19,-9,-2,-7],[19,13,14,8,-3,-5,-6,-11,-13,-12,-2,-3],[17,16,15,8,-4,-2,-11,-9,-12,-9,-8,-2],[21,11,14,10,-4,-3,-8,-14,-5,-10,-3,-6],[25,9,14,-5,-7,-2,-9,-7,-15,2,2,-7],[22,10,14,-11,-7,-9,0,-9,-12,4,-9,1],[18,13,13,5,-7,-7,-8,-16,-15,-3,3,0],
[20,16,16,2,-6,-8,-5,-12,-12,-7,-3,-3],[15,18,17,0,-7,-7,-2,-12,-12,-8,-2,-3],[15,15,16,5,-6,-6,-4,-16,-13,-7,-4,-4],[16,15,16,3,-6,-5,-4,-13,-14,-7,-2,-4],
[15,17,16,-4,-5,-11,-7,-13,-11,0,0,-1],[16,15,16,-4,-8,-9,-3,-12,-11,-2,-3,0],[16,16,16,-2,-8,-7,-4,-14,-14,-2,-3,1],[16,15,15,-1,-8,-7,-3,-14,-14,-4,2,0],[11,19,17,-6,-4,-1,-10,-14,-13,-1,2,-4],[13,18,19,-4,-2,-3,-7,-13,-11,-1,2,-3],[11,18,19,-4,1,-9,-2,-18,-9,-4,-3,-3],[15,19,15,-2,0,-5,-9,-13,-12,-5,-1,-2],[14,19,18,-1,-1,-1,-3,-18,-12,-6,0,-2],[20,6,14,1,4,-9,-14,-9,-11,-11,-1,7],
[25,10,10,-2,-2,-4,-7,-11,-8,-13,-3,0],[25,8,10,4,2,-12,-7,-12,-5,-10,-3,-3],[25,7,9,8,0,-9,-9,-10,-9,-8,-3,-3],[18,13,15,0,5,-13,-10,-12,-11,-1,-3,2],[22,12,12,4,4,-13,-7,-13,-8,-5,-6,-3],[20,13,13,-1,4,-9,-8,-10,-4,-10,-4,-4],[20,11,13,-4,-2,-4,-11,3,-1,-20,-4,-3],[25,10,10,-6,-2,-10,-11,1,-3,-13,1,-1],[20,15,10,3,5,-3,-17,-3,-9,-8,-13,-3],[19,19,14,-8,-3,-6,-8,1,-8,-8,-8,-3],
[20,16,14,-7,3,-9,-4,-1,-7,-9,-11,-4],[21,17,13,-5,2,-11,-10,-2,-5,-9,-8,-3],[20,13,13,-3,4,-6,-10,5,-4,-8,-18,-4],[18,17,15,-2,4,-12,-7,-3,-4,-5,-18,-2],[16,16,17,-5,2,-12,-7,1,-4,-6,-15,-4],[17,15,17,-1,2,3,-6,-13,-12,-8,-3,-11],[12,20,17,-3,1,4,-10,-12,-9,-3,-10,-7],[12,22,16,2,-1,1,-7,-10,-8,-4,-10,-11],[12,19,18,-5,-1,3,-4,-10,-9,-11,-8,-2],[10,19,20,3,-1,0,-4,-8,-13,-12,-9,-7],
[14,18,18,-5,5,-3,-9,-8,-8,-12,-8,-6],[15,17,17,-1,-1,3,-6,-13,-5,-11,-10,-6],[15,16,17,1,4,3,-7,-11,-8,-10,-14,-7],[16,16,16,2,1,-2,-7,-11,-12,-12,-12,-4],[16,11,22,-10,0,-1,-4,-14,-4,-8,-5,-7],[16,13,19,-9,7,0,-7,-9,-3,-6,-15,-9],[15,18,19,-7,4,3,-6,-8,-11,-7,-14,-7],[16,18,18,-4,6,0,-9,-7,-11,-8,-14,-8],[17,17,18,-6,0,6,-4,-9,-11,-2,-16,-9],[17,15,18,-7,-1,6,-4,-7,-11,-4,-12,-10],
[15,17,19,-6,-3,1,-10,-7,-9,0,-11,-10],[15,19,17,-6,-2,0,-7,-11,-8,0,-11,-7],[15,20,16,-9,-3,-1,-7,-8,-8,0,-11,-7],[24,14,11,-9,-2,-4,-5,-2,-4,-12,-8,-5],[25,14,8,-4,5,-7,-4,-5,-4,-14,-9,-3],[24,12,10,-3,-1,2,-2,-3,-8,-15,-11,-9],[21,14,13,-4,2,0,-3,-3,-7,-13,-16,-5],[20,14,12,-3,7,-3,-4,-5,-8,-11,-13,-9],[20,16,14,-3,2,-13,-3,-5,-5,-9,-9,-10],[21,16,15,1,2,-11,-4,-11,-5,-3,-11,-8],
[20,15,13,1,-3,-8,-4,-3,-5,-6,-13,-11],[19,16,18,-2,-8,-6,-1,-6,-6,-6,-10,-11],[21,15,15,-1,-6,-8,-1,-9,-11,-6,-4,-4],[21,15,15,-4,-7,-9,-1,-7,-8,-7,-4,-4],[18,18,15,-6,-7,-1,2,-6,-4,-10,-10,-10],[19,19,19,-7,-6,1,-4,-3,-3,-13,-8,-8],[16,19,19,-8,-6,-8,0,-3,-5,-11,-9,-3],[15,20,17,-11,-5,-4,2,-5,-4,-11,-10,-5],[15,15,15,5,-3,-3,-7,3,-6,-22,-8,-4],[12,17,16,-2,-4,-2,-2,4,3,-21,-14,-5],
[15,16,16,1,-3,-1,2,2,-4,-21,-13,-8],[15,15,16,0,-3,5,2,-3,-4,-15,-18,-14],[9,16,16,-2,3,3,5,-1,-1,-19,-18,-13],[13,16,16,-2,6,1,0,-5,-5,-13,-18,-9],
[15,16,16,2,4,2,-5,-4,-4,-13,-16,-13],[18,15,15,-1,4,-1,-3,-4,-5,-13,-14,-9],[13,13,17,2,8,1,-3,-5,-4,-18,-16,-9],[15,13,16,3,6,3,-1,-5,-2,-16,-16,-14],[14,13,15,0,5,1,0,-2,-2,-16,-18,-13],[7,18,18,-3,4,7,-5,-1,-6,-13,-16,-10],[15,13,14,0,7,8,-5,-1,-5,-16,-15,-11],[15,13,14,0,7,3,-3,-3,-5,-18,-16,-12],[14,13,13,0,6,6,-3,-1,-5,-20,-16,-8],[15,13,14,-3,6,5,-1,3,-2,-19,-16,-9],
[13,16,16,-7,4,0,-6,-1,0,-18,-12,-10],[14,16,16,-5,2,0,-2,3,-1,-20,-12,-11],[19,14,16,-2,-6,2,3,-5,-9,-8,-12,-15],[19,14,16,8,-6,-1,-3,-11,-6,-7,-9,-14],[19,12,17,8,-9,1,0,-11,-7,-9,-13,-9],[18,11,11,7,0,3,0,-10,-6,-9,-23,-6],[18,15,17,-1,-2,-5,4,-6,-5,-11,-16,-8],[15,17,18,0,-4,-4,5,-6,-2,-11,-20,-6],[18,18,14,4,-1,-4,-5,-9,-6,-5,-19,-6],[18,16,15,3,-8,-4,2,-14,-4,-11,-15,-3],
[18,17,14,3,-8,-3,-2,-5,-10,-11,-11,-6],[14,16,14,-3,6,5,-5,-5,-10,-8,-20,-6],[17,16,14,2,5,5,-5,-9,-11,-9,-18,-8],[17,16,14,0,5,5,-2,-7,-13,-14,-14,-8],[16,15,15,-1,8,5,-7,-6,-11,-11,-13,-11],[15,16,16,-3,5,7,-4,-8,-10,-11,-14,-9],[17,16,17,-3,3,6,-4,-8,-9,-11,-11,-12],[17,17,17,-3,5,3,-6,-5,-9,-11,-13,-9],[16,15,13,6,3,6,-4,-12,-12,-14,-9,-7],[15,14,16,6,4,6,-9,-10,-7,-15,-10,-12],
[15,16,16,3,1,5,-8,-11,-9,-15,-10,-9],[14,16,16,3,5,7,-7,-10,-8,-13,-11,-10],[16,16,16,3,3,8,-5,-8,-11,-13,-13,-10],[16,15,15,5,3,6,-7,-8,-9,-13,-13,-13],[15,15,15,4,4,6,-9,-9,-9,-11,-13,-12],[13,16,15,7,3,8,-1,-7,-6,-13,-17,-14],[14,13,15,8,8,8,-6,-11,-9,-12,-16,-11],[15,14,14,6,8,9,-7,-11,-11,-13,-13,-11],[14,13,14,8,8,9,-6,-8,-10,-13,-14,-13],[16,13,14,6,7,9,-4,-8,-9,-15,-14,-12],
[15,13,14,4,8,8,-4,-9,-10,-13,-15,-12],[16,13,15,4,4,7,-6,-8,-10,-12,-15,-13],[22,11,11,8,2,-3,-6,-8,-4,-16,-11,-9],[22,10,14,5,3,1,-3,-8,-6,-18,-11,-10],[24,10,12,5,0,1,-3,-8,-6,-17,-8,-11],[20,10,12,7,5,3,-3,-4,-3,-18,-14,-12],[22,11,9,2,2,4,-3,-7,-6,-17,-14,-6],[20,13,11,5,8,0,-3,-9,-8,-16,-14,-5],[19,14,15,-1,8,1,-1,-14,-9,-13,-14,-7],[19,15,16,2,2,-3,-9,-6,-8,-10,-13,-9],
[19,15,16,2,1,-1,-7,-10,-8,-14,-11,-9],[20,14,15,3,6,-1,-6,-9,-13,-9,-14,-8],[20,15,15,-11,-15,-5,3,0,-5,-2,-9,-8],[18,12,13,-15,-8,-8,2,8,-1,-9,-11,-2],[16,16,18,-12,-4,-3,-6,3,-4,-10,-12,-6],[15,17,17,-15,4,1,-11,3,-4,-9,-13,-6],[12,18,15,-18,5,-6,-8,-2,-9,0,-8,-3],[14,19,17,-18,-4,-4,-10,-1,-4,-3,-6,-3],[17,13,8,-9,-4,7,2,1,1,-4,-23,-9],[16,15,13,-7,-2,4,4,-3,-3,-4,-25,-10],
[5,20,17,-10,-8,3,4,-3,2,-13,-12,-8],[10,14,18,-3,-8,-11,6,-3,2,-6,-11,-11],[11,15,16,-6,-11,-11,12,2,2,-9,-13,-10],[15,13,13,-2,-6,-1,6,1,4,-18,-13,-15],[9,14,16,-8,-4,-1,9,4,4,-13,-16,-14],[9,15,17,-3,-2,-2,9,1,4,-14,-16,-17]
];

/* ---------- helpers ---------- */
const NS='http://www.w3.org/2000/svg';
function mk(tag,attrs,parent){
  const el=document.createElementNS(NS,tag);
  for(const k in attrs) el.setAttribute(k,attrs[k]);
  parent.appendChild(el);
  return el;
}
function txt(parent,attrs,str,name){
  const el=mk('text',attrs,parent);
  el.textContent=str;
  
  
  return el;
}
function fmtMinus(v){return String(v).replace('-','\u2212');}

/* ---------- volcano plots ---------- */
const UP_COLOR='#ff0d1e',DOWN_COLOR='#0b4ea2',NO_COLOR='#bebebe';
function drawSeries(g,pts,fill,r,xs,ys,name){
  const wrap=mk('g',{},g);
  
  
  pts.forEach(function(p){
    const c=mk('circle',{cx:xs(p[0]),cy:ys(p[1]),r:r,fill:fill},wrap);
    
    
  });
}
function drawVolcano(cfg){
  const g=document.getElementById(cfg.id);
  const xs=function(v){return cfg.x0+v*cfg.ux;};
  const ys=function(v){return cfg.y0-v*cfg.uy;};
  drawSeries(g,cfg.graySparse,NO_COLOR,1.3,xs,ys,'no-degs-sparse');
  drawSeries(g,cfg.gray,NO_COLOR,cfg.grayR,xs,ys,'no-degs');
  drawSeries(g,cfg.down,DOWN_COLOR,1.35,xs,ys,'down-regulated');
  drawSeries(g,cfg.up,UP_COLOR,1.35,xs,ys,'up-regulated');
  const box=mk('rect',{x:151,y:cfg.top,width:806,height:cfg.bottom-cfg.top,fill:'none',stroke:'#000','stroke-width':2},g);
  
  
  cfg.xTicks.forEach(function(v){
    const t=mk('line',{x1:xs(v),x2:xs(v),y1:cfg.bottom,y2:cfg.bottom+17,stroke:'#000','stroke-width':2},g);
    
    
    txt(g,{x:xs(v),y:cfg.xLabelY,'font-size':30,'text-anchor':'middle','class':'sans',style:'dominant-baseline:central'},fmtMinus(v),'x-tick-label');
  });
  cfg.yTicks.forEach(function(v){
    const t=mk('line',{x1:151,x2:134,y1:ys(v),y2:ys(v),stroke:'#000','stroke-width':2},g);
    
    
    txt(g,{transform:'translate(102,'+ys(v)+') rotate(-90)','font-size':30,'text-anchor':'middle','class':'sans',style:'dominant-baseline:central'},String(v),'y-tick-label');
  });
}
drawVolcano({id:'v1',x0:583.7,ux:79.6,y0:1240.2,uy:17,top:311,bottom:1275.6,xLabelY:1324.4,xTicks:v1XTicks,yTicks:v1YTicks,up:v1Up,down:v1Down,gray:v1Gray,graySparse:v1GraySparse,grayR:4.5});
drawVolcano({id:'v2',x0:671.4,ux:78.6,y0:2657,uy:7.614,top:1727.5,bottom:2692.7,xLabelY:2741.6,xTicks:v2XTicks,yTicks:v2YTicks,up:v2Up,down:v2Down,gray:v2Gray,graySparse:v2GraySparse,grayR:4});
drawVolcano({id:'v3',x0:690.8,ux:67.2,y0:4119.2,uy:3.206,top:3190.3,bottom:4154,xLabelY:4203.6,xTicks:v3XTicks,yTicks:v3YTicks,up:v3Up,down:v3Down,gray:v3Gray,graySparse:v3GraySparse,grayR:3.5});

/* ---------- bar chart ---------- */
(function(){
  const g=document.getElementById('bars');
  const base=1491,unit=(1491-1324.5)/893,axisX=1968.7;
  const ys=function(v){return base-v*unit;};
  const centers=[2150,2462,2774];
  const fills=['#74b397','#9dcbe5','#ffabb0'];
  const strokes=['#0b5d3a','#2c9cd5','#f0606a'];
  const halfW=130.5;
  const labelW=[172,187,164];
  barCategories.forEach(function(cat,i){
    const v=barValues[i];
    const r=mk('rect',{x:centers[i]-halfW,y:ys(v),width:halfW*2,height:base-ys(v),fill:fills[i],stroke:strokes[i],'stroke-width':2},g);
    
    
    txt(g,{x:centers[i]+halfW-14,y:ys(v)+26,'font-size':27,'text-anchor':'end','class':'sans',style:'fill:#fff;dominant-baseline:central'},String(v),'bar-value-label');
    const t=mk('line',{x1:centers[i],x2:centers[i],y1:base,y2:base+10,stroke:'#555','stroke-width':2},g);
    
    
    txt(g,{x:centers[i]-labelW[i]/2,y:1518,'font-size':24,textLength:labelW[i],'class':'sans',style:'dominant-baseline:central'},cat,'bar-category-label');
  });
  const ya=mk('line',{x1:axisX,x2:axisX,y1:1284,y2:base,stroke:'#555','stroke-width':2},g);
  
  
  const xa=mk('line',{x1:axisX,x2:2982,y1:base,y2:base,stroke:'#555','stroke-width':2},g);
  
  
  const ah=mk('polygon',{points:axisX+',1267 '+(axisX-10)+',1288 '+(axisX+10)+',1288',fill:'#555'},g);
  
  
  const ah2=mk('polygon',{points:'3004,'+base+' 2981,'+(base-9)+' 2981,'+(base+9),fill:'#555'},g);
  
  
  barTicks.forEach(function(v){
    const t=mk('line',{x1:axisX-9,x2:axisX,y1:ys(v),y2:ys(v),stroke:'#555','stroke-width':2},g);
    
    
    txt(g,{x:1955,y:ys(v),'font-size':26.5,'text-anchor':'end','class':'sans',style:'dominant-baseline:central'},String(v),'bar-y-tick-label');
  });
})();

/* ---------- heatmap ---------- */
(function(){
  const g=document.getElementById('heat');
  const left=1774,top=2340,H=1820,cw=108.75;
  const stops=[[-2.55,0,75,165],[-2,30,80,165],[-1.5,85,100,175],[-1,150,150,205],[-.5,205,205,232],[0,255,255,255],[1,255,150,150],[2,255,50,50],[2.55,255,0,0]];
  function color(v){
    if(v<=stops[0][0]) return 'rgb('+stops[0].slice(1).join(',')+')';
    for(let i=1;i<stops.length;i++){
      if(v<=stops[i][0]){
        const a=stops[i-1],b=stops[i],t=(v-a[0])/(b[0]-a[0]);
        return 'rgb('+[1,2,3].map(function(k){return Math.round(a[k]+(b[k]-a[k])*t);}).join(',')+')';
      }
    }
    return 'rgb(255,0,0)';
  }
  const groupColors=['#7cc000','#ff8c85','#00bfc8','#c999c5'];
  const n=heatmapTenths.length,rh=H/n;
  const cells=mk('g',{'shape-rendering':'crispEdges'},g);
  
  
  heatmapTenths.forEach(function(row,r){
    row.forEach(function(val,c){
      const cell=mk('rect',{x:left+c*cw,y:top+r*rh,width:cw+.4,height:rh+.4,fill:color(val/10)},cells);
      
      
    });
  });
  columnLabels.forEach(function(lbl,c){
    const a=mk('rect',{x:left+c*cw,y:2304.7,width:cw+.4,height:27.3,fill:groupColors[columnGroups[c]],'shape-rendering':'crispEdges'},g);
    
    
    const cx=left+(c+.5)*cw+21,cy=4198;
    txt(g,{transform:'translate('+cx+','+cy+') rotate(-45)','font-size':38,'text-anchor':'end','font-style':'oblique','class':'dejavu'},lbl,'column-label-'+lbl);
  });

  /* column dendrogram */
  const baseY=2301.5;
  let dCol='';
  function colNode(node){
    if(typeof node==='number') return [left+(node+.5)*cw,baseY];
    const a=colNode(node[1]),b=colNode(node[2]),y=baseY-node[0];
    dCol+='M'+a[0]+' '+a[1]+'V'+y+'H'+b[0]+'V'+b[1];
    return [(a[0]+b[0])/2,y];
  }
  colNode(columnTree);
  const cp=mk('path',{d:dCol,fill:'none',stroke:'#000','stroke-width':2.6},g);
  
  

  /* row dendrogram */
  function treeSize(t){
    if(t.length===2) return t[1];
    return treeSize(t[1])+treeSize(t[2]);
  }
  const treeH=H/treeSize(rowTree);
  let cursor=0,dRow='';
  function comb(count,d){
    if(count===1){const y=top+(cursor+.5)*treeH;cursor++;return [left,y];}
    const na=Math.max(1,Math.round(count*.4));
    const childD=d*.72;
    const a=comb(na,childD),b=comb(count-na,childD),x=left-d;
    dRow+='M'+a[0]+' '+a[1]+'H'+x+'V'+b[1]+'H'+b[0];
    return [x,(a[1]+b[1])/2];
  }
  function rowNode(t){
    if(t.length===2) return comb(t[1],t[0]);
    const a=rowNode(t[1]),b=rowNode(t[2]),x=left-t[0];
    dRow+='M'+a[0]+' '+a[1]+'H'+x+'V'+b[1]+'H'+b[0];
    return [x,(a[1]+b[1])/2];
  }
  rowNode(rowTree);
  const rp=mk('path',{d:dRow,fill:'none',stroke:'#000','stroke-width':2.2},g);
  
  

  /* colour bar */
  const barTop=2340,barBottom=2748.6,barUnit=80.2,zeroY=2544;
  const cb=mk('g',{'shape-rendering':'crispEdges'},g);
  
  
  for(let y=barTop;y<barBottom;y+=4){
    const s=mk('rect',{x:3092,y:y,width:27,height:4.4,fill:color((zeroY-y-2)/barUnit)},cb);
    
    
  }
  colorbarTicks.forEach(function(v){
    txt(g,{x:3131,y:zeroY-v*barUnit,'font-size':27,'class':'dejavu',style:'dominant-baseline:central'},String(v),'color-bar-label');
  });

  /* group legend */
  const swatchY=[2373,2416.4,2459.6,2503],swatchH=[43.4,43.2,43.4,44.5];
  groupNames.forEach(function(name,i){
    const s=mk('rect',{x:3185,y:swatchY[i],width:43,height:swatchH[i],fill:groupColors[i],'shape-rendering':'crispEdges'},g);
    
    
    txt(g,{x:3238,y:swatchY[i]+swatchH[i]/2,'font-size':27,'class':'dejavu',style:'dominant-baseline:central'},name,'group-legend-label-'+name);
  });
})();
</script>
</body>
</html>
